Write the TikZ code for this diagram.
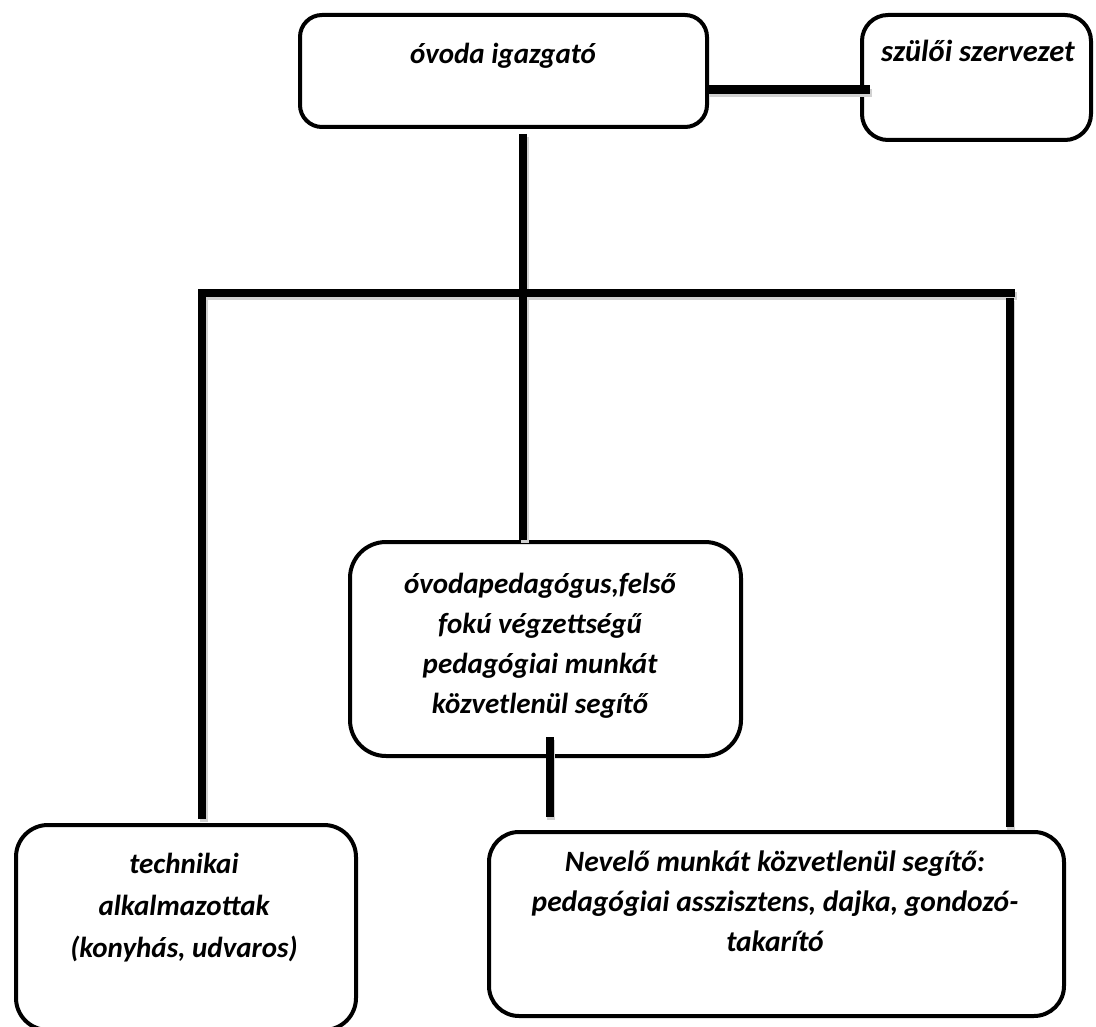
\documentclass[tikz,border=0pt]{standalone}
\usepackage{fontspec}
\setmainfont{Carlito}
\begin{document}
\begin{tikzpicture}[x=1pt,y=-1pt,
  box/.style={draw, line width=4pt, inner sep=0pt},
  lbl/.style={font=\fontsize{29}{40}\selectfont\bfseries\itshape, align=center, inner sep=0pt},
  conn/.style={line width=8pt, line join=miter},
  shade/.style={line width=8pt, line join=miter, black!18, transform canvas={shift={(1.5pt,-3pt)}}}]
\useasboundingbox (0,0) rectangle (1096,1027);
% boxes
\node[box, rounded corners=22pt, minimum width=407pt, minimum height=112pt] (A) at (503.5,71) {};
\node[box, rounded corners=26pt, minimum width=229pt, minimum height=125pt] (B) at (976.5,77.5) {};
\node[box, rounded corners=36pt, minimum width=391pt, minimum height=214pt] (E) at (545.5,649) {};
\node[box, rounded corners=32pt, minimum width=340pt, minimum height=205pt] (C) at (186,927.5) {};
\node[box, rounded corners=30pt, minimum width=575pt, minimum height=184pt] (D) at (776.5,924) {};
% labels
\node[lbl, anchor=base] (At) at (503,64) {óvoda igazgató};
\node[lbl, anchor=base, font=\fontsize{30.5}{40}\selectfont\bfseries\itshape] (Bt) at (978,62) {szülői szervezet};
\node[lbl] (Et) at (540,645.5) {óvodapedagógus,felső\\fokú végzettségű\\pedagógiai munkát\\közvetlenül segítő};
\node[lbl, font=\fontsize{29}{42}\selectfont\bfseries\itshape] (Ct) at (184,907.5) {technikai\\alkalmazottak\\(konyhás, udvaros)};
\node[lbl, font=\fontsize{29.5}{40}\selectfont\bfseries\itshape] (Dt) at (775,901.5) {Nevelő munkát közvetlenül segítő:\\pedagógiai asszisztens, dajka, gondozó-\\takarító};
% connector end points
\coordinate (ab1) at (707,90);
\coordinate (ab2) at (870,90);
\coordinate (a1) at (523,134);
\coordinate (e1) at (523,540);
\coordinate (l1) at (202,819);
\coordinate (lc) at (202,293);
\coordinate (r0) at (1015,293);
\coordinate (r1) at (1009.5,298);
\coordinate (r2) at (1009.5,827);
\coordinate (s1) at (549.5,737);
\coordinate (s2) at (549.5,817);
% connector shadows
\draw[shade] (ab1) -- (ab2);
\draw[shade] (a1) -- (e1);
\draw[shade] (l1) -- (lc) -- (r0);
\draw[shade] (r1) -- (r2);
\draw[shade] (s1) -- (s2);
% connectors
\draw[conn, line width=9pt] (ab1) -- (ab2);
\draw[conn] (a1) -- (e1);
\draw[conn] (l1) -- (lc) -- (r0);
\draw[conn] (r1) -- (r2);
\draw[conn] (s1) -- (s2);
\end{tikzpicture}
\end{document}
